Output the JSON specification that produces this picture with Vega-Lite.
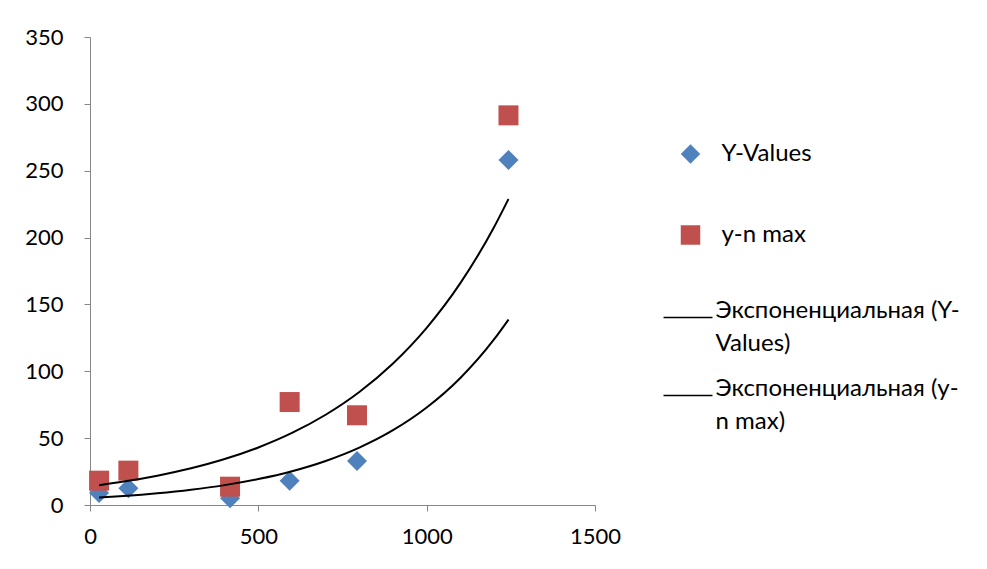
{
  "$schema": "https://vega.github.io/schema/vega-lite/v6.json",
  "width": 505,
  "height": 468,
  "autosize": {"type": "none"},
  "padding": {"left": 90, "top": 37, "right": 392, "bottom": 64},
  "background": "white",
  "config": {
    "view": {"stroke": null},
    "font": "Lato",
    "style": {"guide-label": {"lineHeight": 33}},
    "axis": {
      "domainColor": "#868686",
      "tickColor": "#868686",
      "tickSize": 6,
      "grid": false,
      "labelFont": "Lato",
      "labelFontSize": 22,
      "labelColor": "black",
      "domainWidth": 1,
      "tickWidth": 1,
      "labelFlush": false,
      "labelOverlap": false
    },
    "legend": {
      "labelFont": "Lato",
      "labelFontSize": 24,
      "labelColor": "black",
      "labelLimit": 400,
      "padding": 0,
      "orient": "none"
    }
  },
  "datasets": {
    "points": [
      {"x": 27, "y": 9.0, "series": "Y-Values"},
      {"x": 114, "y": 12.5, "series": "Y-Values"},
      {"x": 416, "y": 5.0, "series": "Y-Values"},
      {"x": 593, "y": 18.2, "series": "Y-Values"},
      {"x": 793, "y": 32.9, "series": "Y-Values"},
      {"x": 1243, "y": 258, "series": "Y-Values"},
      {"x": 27, "y": 18.2, "series": "y-n max"},
      {"x": 114, "y": 25.7, "series": "y-n max"},
      {"x": 416, "y": 13.7, "series": "y-n max"},
      {"x": 593, "y": 77.0, "series": "y-n max"},
      {"x": 793, "y": 67.1, "series": "y-n max"},
      {"x": 1243, "y": 291.4, "series": "y-n max"}
    ],
    "trend": [
      {"x": 27, "y": 5.54, "series": "Экспоненциальная (Y-Values)"},
      {"x": 100, "y": 6.72, "series": "Экспоненциальная (Y-Values)"},
      {"x": 200, "y": 8.76, "series": "Экспоненциальная (Y-Values)"},
      {"x": 300, "y": 11.41, "series": "Экспоненциальная (Y-Values)"},
      {"x": 400, "y": 14.87, "series": "Экспоненциальная (Y-Values)"},
      {"x": 500, "y": 19.39, "series": "Экспоненциальная (Y-Values)"},
      {"x": 600, "y": 25.26, "series": "Экспоненциальная (Y-Values)"},
      {"x": 700, "y": 32.93, "series": "Экспоненциальная (Y-Values)"},
      {"x": 800, "y": 42.91, "series": "Экспоненциальная (Y-Values)"},
      {"x": 900, "y": 55.92, "series": "Экспоненциальная (Y-Values)"},
      {"x": 1000, "y": 72.88, "series": "Экспоненциальная (Y-Values)"},
      {"x": 1100, "y": 94.98, "series": "Экспоненциальная (Y-Values)"},
      {"x": 1200, "y": 123.79, "series": "Экспоненциальная (Y-Values)"},
      {"x": 1243, "y": 138.7, "series": "Экспоненциальная (Y-Values)"},
      {"x": 27, "y": 14.85, "series": "Экспоненциальная (y-n max)"},
      {"x": 100, "y": 17.5, "series": "Экспоненциальная (y-n max)"},
      {"x": 200, "y": 21.91, "series": "Экспоненциальная (y-n max)"},
      {"x": 300, "y": 27.44, "series": "Экспоненциальная (y-n max)"},
      {"x": 400, "y": 34.36, "series": "Экспоненциальная (y-n max)"},
      {"x": 500, "y": 43.03, "series": "Экспоненциальная (y-n max)"},
      {"x": 600, "y": 53.88, "series": "Экспоненциальная (y-n max)"},
      {"x": 700, "y": 67.48, "series": "Экспоненциальная (y-n max)"},
      {"x": 800, "y": 84.49, "series": "Экспоненциальная (y-n max)"},
      {"x": 900, "y": 105.8, "series": "Экспоненциальная (y-n max)"},
      {"x": 1000, "y": 132.48, "series": "Экспоненциальная (y-n max)"},
      {"x": 1100, "y": 165.9, "series": "Экспоненциальная (y-n max)"},
      {"x": 1200, "y": 207.74, "series": "Экспоненциальная (y-n max)"},
      {"x": 1243, "y": 228.84, "series": "Экспоненциальная (y-n max)"}
    ]
  },
  "layer": [
    {
      "data": {"name": "points"},
      "mark": {"type": "point", "filled": true, "opacity": 1, "size": 400},
      "encoding": {
        "x": {
          "field": "x", "type": "quantitative",
          "scale": {"domain": [0, 1500], "nice": false, "zero": false},
          "axis": {"title": null, "values": [0, 500, 1000, 1500], "format": "d", "labelPadding": 15}
        },
        "y": {
          "field": "y", "type": "quantitative",
          "scale": {"domain": [0, 350], "nice": false},
          "axis": {"title": null, "values": [0, 50, 100, 150, 200, 250, 300, 350], "format": "d", "labelPadding": 21}
        },
        "color": {
          "field": "series", "type": "nominal",
          "scale": {"domain": ["Y-Values", "y-n max"], "range": ["#4F81BD", "#C0504D"]},
          "legend": {
            "title": null,
            "legendX": 588.5,
            "legendY": 105,
            "rowPadding": 57,
            "symbolSize": 380,
            "symbolStrokeWidth": 0,
            "labelOffset": 19
          }
        },
        "shape": {
          "field": "series", "type": "nominal",
          "scale": {"domain": ["Y-Values", "y-n max"], "range": ["diamond", "square"]},
          "legend": {
            "title": null,
            "legendX": 588.5,
            "legendY": 105,
            "rowPadding": 57,
            "symbolSize": 380,
            "symbolStrokeWidth": 0,
            "labelOffset": 19
          }
        }
      }
    },
    {
      "data": {"name": "trend"},
      "mark": {"type": "line", "strokeWidth": 2, "interpolate": "monotone"},
      "encoding": {
        "x": {"field": "x", "type": "quantitative"},
        "y": {"field": "y", "type": "quantitative"},
        "stroke": {
          "field": "series", "type": "nominal",
          "scale": {"domain": ["Экспоненциальная (Y-Values)", "Экспоненциальная (y-n max)"], "range": ["#000000", "#000000"]},
          "legend": {
            "title": null,
            "legendX": 572.5,
            "legendY": 255,
            "rowPadding": 14,
            "symbolSize": 2401,
            "symbolStrokeWidth": 1.5,
            "labelOffset": 2,
            "labelBaseline": "alphabetic",
            "labelExpr": "datum.label == 'Экспоненциальная (Y-Values)' ? ['Экспоненциальная (Y-', 'Values)'] : ['Экспоненциальная (y-', 'n max)']"
          }
        }
      }
    }
  ],
  "resolve": {"scale": {"color": "independent", "shape": "independent", "stroke": "independent"}}
}
